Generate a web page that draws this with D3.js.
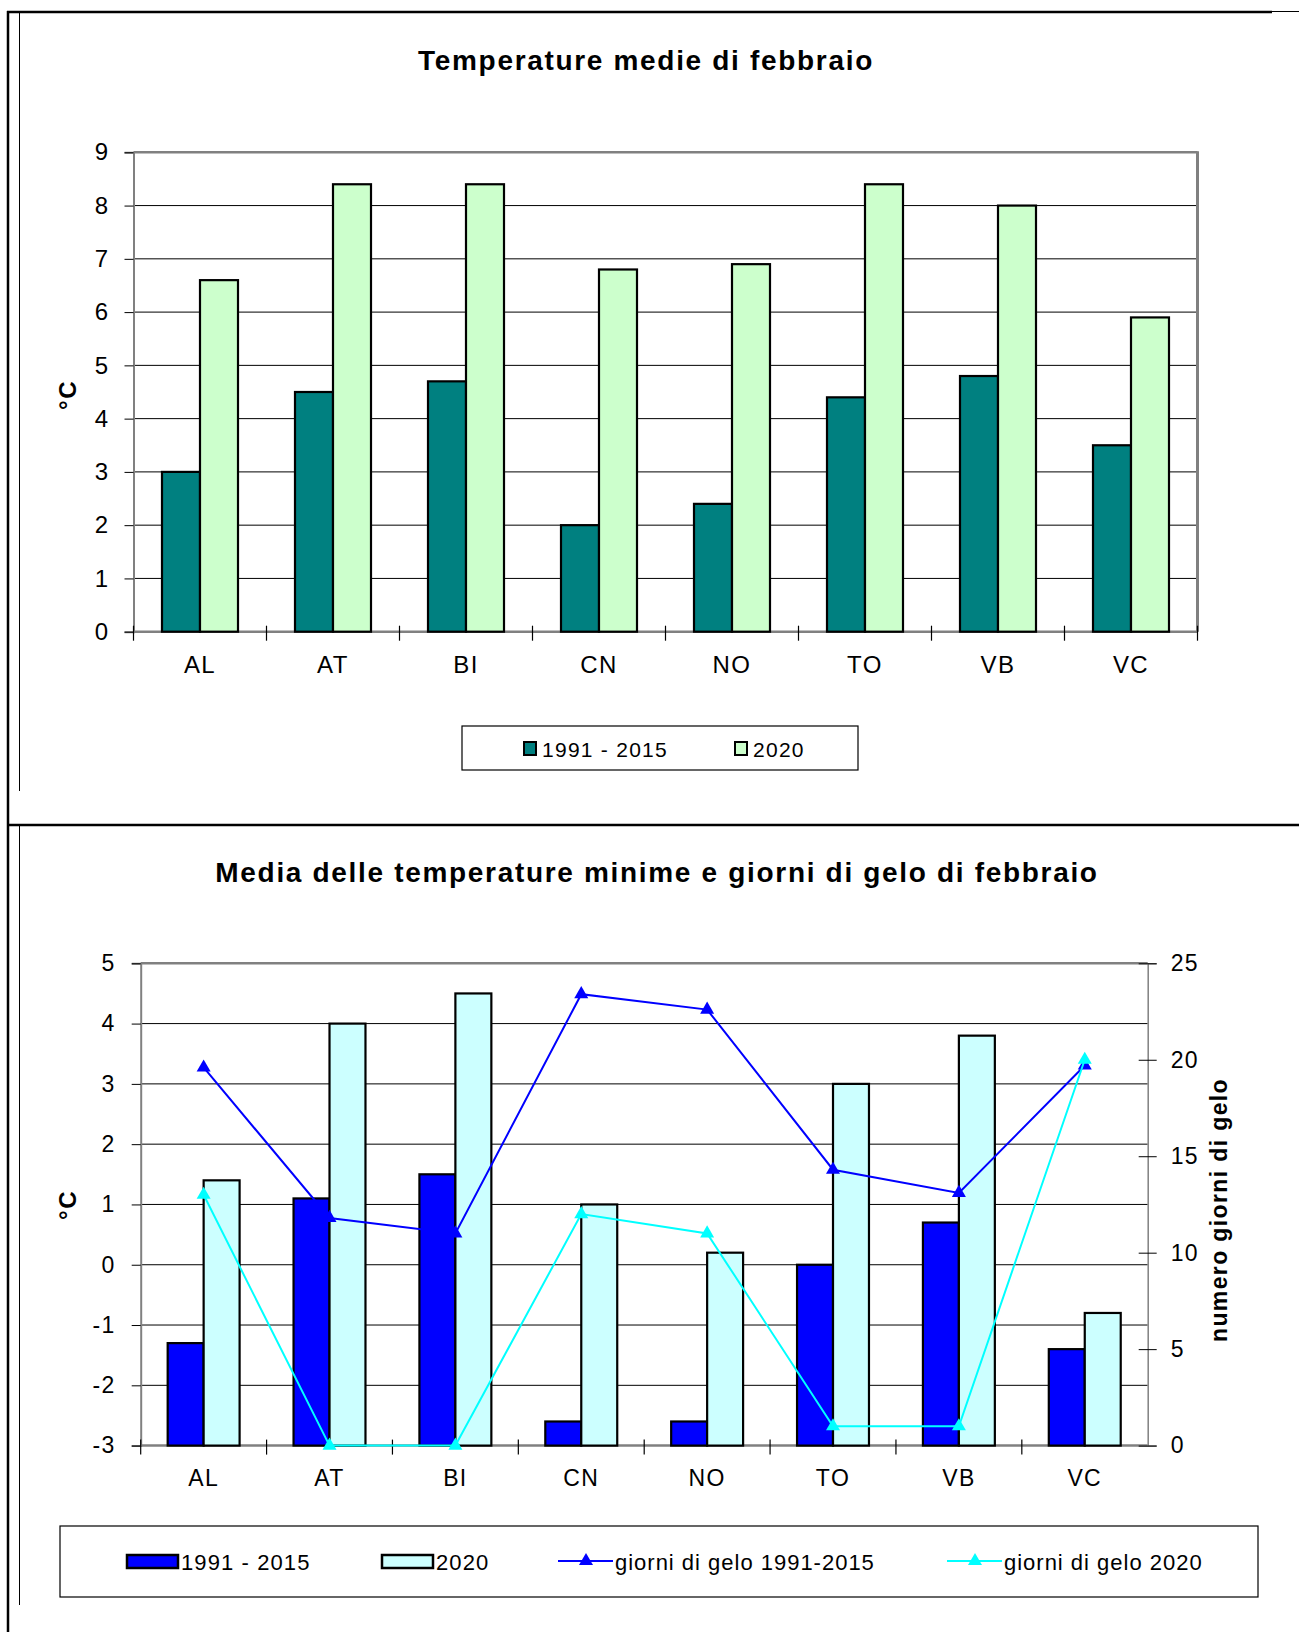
<!DOCTYPE html>
<html>
<head>
<meta charset="utf-8">
<script src="https://cdn.jsdelivr.net/npm/d3@7"></script>
<style>
  body { margin: 0; background: #fff; }
  text { font-family: "Liberation Sans", Arial, sans-serif; letter-spacing: 0.06em; fill: #000; }
</style>
</head>
<body>
<svg id="chart" width="1299" height="1632"></svg>
<script>
// values
const categories = ['AL', 'AT', 'BI', 'CN', 'NO', 'TO', 'VB', 'VC'];
const mediaClima = [3.0, 4.5, 4.7, 2.0, 2.4, 4.4, 4.8, 3.5];   // 1991 - 2015
const media2020  = [6.6, 8.4, 8.4, 6.8, 6.9, 8.4, 8.0, 5.9];
const minClima   = [-1.3, 1.1, 1.5, -2.6, -2.6, 0.0, 0.7, -1.4];
const min2020    = [1.4, 4.0, 4.5, 1.0, 0.2, 3.0, 3.8, -0.8];
const geloClima  = [19.6, 11.8, 11.0, 23.4, 22.6, 14.3, 13.1, 19.7];
const gelo2020   = [13, 0, 0, 12, 11, 1, 1, 20];
const tempTicks = [0, 1, 2, 3, 4, 5, 6, 7, 8, 9];
const minTicks  = [-3, -2, -1, 0, 1, 2, 3, 4, 5];
const geloTicks = [0, 5, 10, 15, 20, 25];

const svg = d3.select('#chart');
const plain = d => String(d);   // keep the hyphen, not d3's minus sign

// outer frame of the two panels
const frame = svg.append('g').attr('stroke', '#000').attr('fill', 'none');
frame.append('line').attr('x1', 7).attr('y1', 12).attr('x2', 1272).attr('y2', 12).attr('stroke-width', 2.5);
frame.append('line').attr('x1', 1272).attr('y1', 11.5).attr('x2', 1299).attr('y2', 11.5).attr('stroke-width', 1);
frame.append('line').attr('x1', 8).attr('y1', 11).attr('x2', 8).attr('y2', 1632).attr('stroke-width', 2.5);
frame.append('line').attr('x1', 19.5).attr('y1', 12).attr('x2', 19.5).attr('y2', 791).attr('stroke-width', 1);
frame.append('line').attr('x1', 8).attr('y1', 825).attr('x2', 1299).attr('y2', 825).attr('stroke-width', 2.5);
frame.append('line').attr('x1', 19.5).attr('y1', 825).attr('x2', 19.5).attr('y2', 1605).attr('stroke-width', 1);

function hline(g, x1, x2, y, color, w) {
  g.append('line').attr('x1', x1).attr('x2', x2).attr('y1', y).attr('y2', y)
    .attr('stroke', color).attr('stroke-width', w);
}
function vline(g, x, y1, y2, color, w) {
  g.append('line').attr('x1', x).attr('x2', x).attr('y1', y1).attr('y2', y2)
    .attr('stroke', color).attr('stroke-width', w);
}

// ---------- top chart ----------
const t = { left: 133.5, right: 1197.5, top: 152.3, bottom: 631.7 };
const x1 = d3.scaleBand().domain(categories).range([t.left, t.right]);
const y1 = d3.scaleLinear().domain([0, 9]).range([t.bottom, t.top]);
const bw1 = x1.bandwidth() / 3.5;
const g1 = svg.append('g');

g1.append('text').attr('x', 646).attr('y', 70).attr('text-anchor', 'middle')
  .attr('font-size', 28).attr('font-weight', 'bold').text('Temperature medie di febbraio');

g1.selectAll('line.grid').data(tempTicks.filter(d => d > 0 && d < 9)).join('line')
  .attr('class', 'grid')
  .attr('x1', t.left).attr('x2', t.right)
  .attr('y1', d => y1(d)).attr('y2', d => y1(d))
  .attr('stroke', '#000').attr('stroke-width', 1);

hline(g1, t.left, t.right, t.top, '#808080', 2.5);
vline(g1, t.right, t.top - 1, t.bottom, '#808080', 3);
hline(g1, t.left, t.right, t.bottom, '#808080', 2.5);

const topSeries = [
  { values: mediaClima, fill: '#008080' },
  { values: media2020, fill: '#CCFFCC' }
];
topSeries.forEach((s, i) => {
  g1.append('g').selectAll('rect').data(s.values).join('rect')
    .attr('x', (d, k) => x1(categories[k]) + bw1 * 0.75 + i * bw1)
    .attr('y', d => y1(d))
    .attr('width', bw1)
    .attr('height', d => y1(0) - y1(d))
    .attr('fill', s.fill).attr('stroke', '#000').attr('stroke-width', 2.2);
});

const ay1 = g1.append('g').attr('transform', `translate(${t.left},0)`)
  .call(d3.axisLeft(y1).tickValues(tempTicks).tickFormat(plain).tickSize(9).tickPadding(15));
ay1.select('.domain').attr('stroke', '#808080').attr('stroke-width', 2);
ay1.selectAll('.tick line').attr('stroke', '#000');
ay1.selectAll('text').attr('font-size', 24).attr('font-family', null);

const ax1 = g1.append('g').attr('transform', `translate(0,${t.bottom})`)
  .call(d3.axisBottom(x1).tickSize(0).tickPadding(24));
ax1.select('.domain').remove();
ax1.selectAll('text').attr('font-size', 24).attr('font-family', null);
categories.concat(['end']).forEach((c, k) => {
  const xx = k < categories.length ? x1(c) : t.right;
  vline(g1, xx, t.bottom - 6, t.bottom + 9, '#000', 1.2);
});

g1.append('text').attr('transform', 'translate(67.5,395) rotate(-90)')
  .attr('text-anchor', 'middle').attr('dominant-baseline', 'central')
  .attr('font-size', 24).attr('font-weight', 'bold').text('°C');

// legend top
const l1 = g1.append('g');
l1.append('rect').attr('x', 462).attr('y', 726).attr('width', 396).attr('height', 44)
  .attr('fill', 'none').attr('stroke', '#000').attr('stroke-width', 1.2);
[{ x: 524, label: '1991 - 2015', fill: '#008080' }, { x: 735, label: '2020', fill: '#CCFFCC' }]
  .forEach(it => {
    l1.append('rect').attr('x', it.x).attr('y', 742).attr('width', 12).attr('height', 13)
      .attr('fill', it.fill).attr('stroke', '#000').attr('stroke-width', 2);
    l1.append('text').attr('x', it.x + 18).attr('y', 749).attr('dominant-baseline', 'central')
      .attr('font-size', 21).text(it.label);
  });

// ---------- bottom chart ----------
const b = { left: 140.7, right: 1147.7, top: 963.3, bottom: 1445.6 };
const x2 = d3.scaleBand().domain(categories).range([b.left, b.right]);
const y2 = d3.scaleLinear().domain([-3, 5]).range([b.bottom, b.top]);
const yR = d3.scaleLinear().domain([0, 25]).range([b.bottom, b.top]);
const bw2 = x2.bandwidth() / 3.5;
const g2 = svg.append('g');

g2.append('text').attr('x', 657).attr('y', 882).attr('text-anchor', 'middle')
  .attr('font-size', 28).attr('font-weight', 'bold')
  .text('Media delle temperature minime e giorni di gelo di febbraio');

g2.selectAll('line.grid').data(minTicks.filter(d => d > -3 && d < 5)).join('line')
  .attr('class', 'grid')
  .attr('x1', b.left).attr('x2', b.right)
  .attr('y1', d => y2(d)).attr('y2', d => y2(d))
  .attr('stroke', '#000').attr('stroke-width', 1);

hline(g2, b.left, b.right, b.top, '#808080', 2.5);
hline(g2, b.left, b.right, b.bottom, '#808080', 2.5);

const botSeries = [
  { values: minClima, fill: '#0000FF' },
  { values: min2020, fill: '#CCFFFF' }
];
botSeries.forEach((s, i) => {
  g2.append('g').selectAll('rect').data(s.values).join('rect')
    .attr('x', (d, k) => x2(categories[k]) + bw2 * 0.75 + i * bw2)
    .attr('y', d => y2(d))
    .attr('width', bw2)
    .attr('height', d => y2(-3) - y2(d))
    .attr('fill', s.fill).attr('stroke', '#000').attr('stroke-width', 2.2);
});

const ay2 = g2.append('g').attr('transform', `translate(${b.left},0)`)
  .call(d3.axisLeft(y2).tickValues(minTicks).tickFormat(plain).tickSize(9).tickPadding(16));
ay2.select('.domain').attr('stroke', '#808080').attr('stroke-width', 2);
ay2.selectAll('.tick line').attr('stroke', '#000');
ay2.selectAll('text').attr('font-size', 23).attr('font-family', null);

const ayR = g2.append('g').attr('transform', `translate(${b.right},0)`)
  .call(d3.axisRight(yR).tickValues(geloTicks).tickFormat(plain).tickSize(9).tickPadding(14));
ayR.select('.domain').attr('stroke', '#808080').attr('stroke-width', 1.5);
ayR.selectAll('.tick line').attr('stroke', '#000').attr('x1', -9);
ayR.selectAll('text').attr('font-size', 23).attr('font-family', null);

const ax2 = g2.append('g').attr('transform', `translate(0,${b.bottom})`)
  .call(d3.axisBottom(x2).tickSize(0).tickPadding(24));
ax2.select('.domain').remove();
ax2.selectAll('text').attr('font-size', 23).attr('font-family', null);
categories.forEach(c => vline(g2, x2(c), b.bottom - 6, b.bottom + 9, '#000', 1.2));

const lineSeries = [
  { values: geloClima, color: '#0000FF' },
  { values: gelo2020, color: '#00FFFF' }
];
const line = d3.line()
  .x((d, k) => x2(categories[k]) + x2.bandwidth() / 2)
  .y(d => yR(d));
const tri = d3.symbol(d3.symbolTriangle).size(85);
lineSeries.forEach(s => {
  g2.append('path').datum(s.values).attr('d', line)
    .attr('fill', 'none').attr('stroke', s.color).attr('stroke-width', 2);
  g2.append('g').selectAll('path').data(s.values).join('path')
    .attr('d', tri)
    .attr('transform', (d, k) => `translate(${x2(categories[k]) + x2.bandwidth() / 2},${yR(d)})`)
    .attr('fill', s.color);
});

g2.append('text').attr('transform', 'translate(67.5,1205) rotate(-90)')
  .attr('text-anchor', 'middle').attr('dominant-baseline', 'central')
  .attr('font-size', 24).attr('font-weight', 'bold').text('°C');
g2.append('text').attr('transform', 'translate(1219,1210) rotate(-90)')
  .attr('text-anchor', 'middle').attr('dominant-baseline', 'central')
  .attr('font-size', 23).attr('font-weight', 'bold').text('numero giorni di gelo');

// legend bottom
const l2 = g2.append('g');
l2.append('rect').attr('x', 60).attr('y', 1526).attr('width', 1198).attr('height', 71)
  .attr('fill', 'none').attr('stroke', '#000').attr('stroke-width', 1.2);
[{ x: 127, label: '1991 - 2015', fill: '#0000FF' }, { x: 382, label: '2020', fill: '#CCFFFF' }]
  .forEach(it => {
    l2.append('rect').attr('x', it.x).attr('y', 1555).attr('width', 51).attr('height', 13)
      .attr('fill', it.fill).attr('stroke', '#000').attr('stroke-width', 2.5);
    l2.append('text').attr('x', it.x + 54).attr('y', 1562).attr('dominant-baseline', 'central')
      .attr('font-size', 22).style('letter-spacing', '0.05em').text(it.label);
  });
[{ x: 558, label: 'giorni di gelo 1991-2015', color: '#0000FF' },
 { x: 947, label: 'giorni di gelo 2020', color: '#00FFFF' }]
  .forEach(it => {
    hline(l2, it.x, it.x + 55, 1561, it.color, 2);
    l2.append('path').attr('d', tri).attr('transform', `translate(${it.x + 28},1561)`).attr('fill', it.color);
    l2.append('text').attr('x', it.x + 57).attr('y', 1562).attr('dominant-baseline', 'central')
      .attr('font-size', 22).style('letter-spacing', '0.045em').text(it.label);
  });
</script>
</body>
</html>
